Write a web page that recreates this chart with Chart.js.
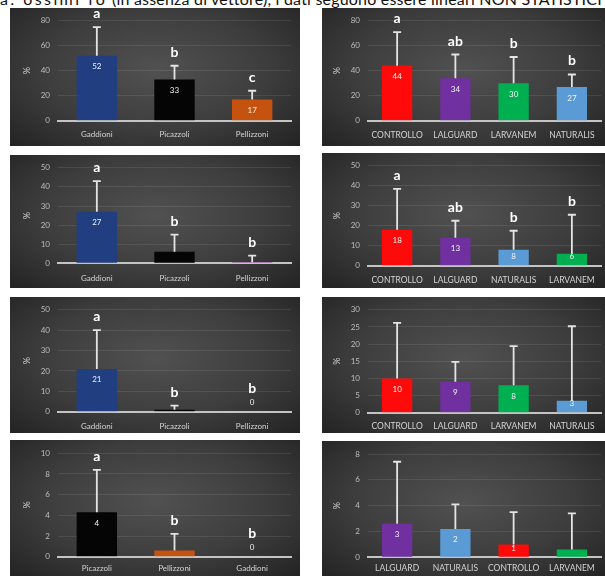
<!DOCTYPE html>
<html>
<head>
<meta charset="utf-8">
<script src="https://cdn.jsdelivr.net/npm/chart.js@4.4.1/dist/chart.umd.min.js"></script>
<style>
  html,body{margin:0;padding:0;background:#fff;width:605px;height:576px;overflow:hidden;position:relative;font-family:Lato,"Liberation Sans",sans-serif;}
  .title{position:absolute;top:-11px;white-space:nowrap;font-size:16px;line-height:19px;color:#111;}
  .panel{position:absolute;background:radial-gradient(ellipse at 50% 45%,#515151 0%,#3d3d3d 55%,#232323 100%);}
  canvas{display:block;}
</style>
</head>
<body>
<div class="title" style="left:0px;letter-spacing:2.4px;">a: ossimi fo</div>
<div class="title" style="left:112px;letter-spacing:0.2px;">(in assenza di vettore), i dati seguono essere lineari NON STATISTICI</div>

<script>
// ---------- DATA ----------
const catGPP = ['Gaddioni','Picazzoli','Pellizzoni'];
const catPPG = ['Picazzoli','Pellizzoni','Gaddioni'];
const catR1 = ['CONTROLLO','LALGUARD','LARVANEM','NATURALIS'];
const catR2 = ['CONTROLLO','LALGUARD','NATURALIS','LARVANEM'];
const catR3 = ['CONTROLLO','LALGUARD','LARVANEM','NATURALIS'];
const catR4 = ['LALGUARD','NATURALIS','CONTROLLO','LARVANEM'];

// panel 1 (left, row 1)
const val1 = [52, 33, 17];
const err1 = [23, 11, 7];
const let1 = ['a','b','c'];
const lab1 = ['52','33','17'];
// panel 2 (right, row 1)
const val2 = [44, 34, 30, 27];
const err2 = [27, 19, 21, 10];
const let2 = ['a','ab','b','b'];
const lab2 = ['44','34','30','27'];
// panel 3 (left, row 2)
const val3 = [27, 6, 0.6];
const err3 = [16, 9, 3.4];
const let3 = ['a','b','b'];
const lab3 = ['27','',''];
// panel 4 (right, row 2)
const val4 = [18, 14, 8, 6];
const err4 = [20.5, 8.5, 9.5, 19.5];
const let4 = ['a','ab','b','b'];
const lab4 = ['18','13','8','6'];
// panel 5 (left, row 3)
const val5 = [21, 1, 0];
const err5 = [19, 2, 0];
const let5 = ['a','b','b'];
const lab5 = ['21','','0'];
// panel 6 (right, row 3)
const val6 = [10, 9, 8, 3.5];
const err6 = [16.2, 5.8, 11.4, 21.7];
const let6 = ['','','',''];
const lab6 = ['10','9','8','3'];
// panel 7 (left, row 4)
const val7 = [4.3, 0.6, 0];
const err7 = [4.1, 1.6, 0];
const let7 = ['a','b','b'];
const lab7 = ['4','','0'];
// panel 8 (right, row 4)
const val8 = [2.6, 2.2, 1, 0.6];
const err8 = [4.8, 1.9, 2.5, 2.8];
const let8 = ['','','',''];
const lab8 = ['3','2','1',''];

// axis ranges
const yMax = [80, 80, 50, 50, 50, 30, 10, 8];
const yStep = [20, 20, 10, 10, 10, 5, 2, 2];

// ---------- STYLE ----------
const colorOf = {
  'Gaddioni':'#213f80','Picazzoli':'#050505','Pellizzoni':'#c5530f',
  'CONTROLLO':'#ff0a0a','LALGUARD':'#7030a0','LARVANEM':'#00b050','NATURALIS':'#5b9bd5'
};
const altPell = '#8a3a9a';

const panels = [
  {cats:catGPP,val:val1,err:err1,let:let1,lab:lab1,L:10, T:8,  W:290,H:138,pt:10.3,pb:112.7,lg:14},
  {cats:catR1, val:val2,err:err2,let:let2,lab:lab2,L:322,T:8,  W:283,H:138,pt:10.3,pb:112.7,lg:14},
  {cats:catGPP,val:val3,err:err3,let:let3,lab:lab3,L:10, T:155,W:290,H:133,pt:6.7, pb:108.3,lg:15},
  {cats:catR2, val:val4,err:err4,let:let4,lab:lab4,L:322,T:153,W:283,H:135,pt:10.3,pb:112.7,lg:14},
  {cats:catGPP,val:val5,err:err5,let:let5,lab:lab5,L:10, T:297,W:290,H:136,pt:12.3,pb:114.7,lg:15},
  {cats:catR3, val:val6,err:err6,let:let6,lab:lab6,L:322,T:297,W:283,H:136,pt:12.3,pb:115.7,lg:13.5},
  {cats:catPPG,val:val7,err:err7,let:let7,lab:lab7,L:10, T:440,W:290,H:136,pt:13.3,pb:116.7,lg:11.7},
  {cats:catR4, val:val8,err:err8,let:let8,lab:lab8,L:322,T:441,W:283,H:135,pt:13,  pb:116.3,lg:10.5}
];

const FONT = 'Lato, "Liberation Sans", sans-serif';

const overlay = {
  id:'overlay',
  afterDatasetsDraw(chart){
    const p = chart.options.plugins.overlay;
    const ctx = chart.ctx;
    const ys = chart.scales.y;
    const meta = chart.getDatasetMeta(0);
    const y0 = ys.getPixelForValue(0);
    ctx.save();
    meta.data.forEach((bar,i)=>{
      const v = p.val[i], e = p.err[i];
      const yv = ys.getPixelForValue(v);
      const yt = ys.getPixelForValue(v+e);
      const x = bar.x;
      if(e>0){
        ctx.strokeStyle = '#e4e4e4';
        ctx.lineWidth = 1.8;
        ctx.beginPath();
        ctx.moveTo(x, yv); ctx.lineTo(x, yt);
        ctx.moveTo(x-4, yt); ctx.lineTo(x+4, yt);
        ctx.stroke();
      }
      let labY = null;
      if(p.lab[i]){
        labY = Math.min(yv + 11, y0 - 9);
        ctx.fillStyle = '#f2f2f2';
        ctx.font = '8px ' + FONT;
        ctx.textAlign = 'center';
        ctx.textBaseline = 'middle';
        ctx.fillText(p.lab[i], x, labY);
      }
      if(p.let[i]){
        let ly = yt - 9;
        if(labY !== null) ly = Math.min(ly, labY - 10);
        ctx.fillStyle = '#ffffff';
        ctx.font = 'bold 14px ' + FONT;
        ctx.textAlign = 'center';
        ctx.textBaseline = 'alphabetic';
        ctx.fillText(p.let[i], x, ly);
      }
    });
    ctx.restore();
  }
};

panels.forEach((pn, idx)=>{
  const div = document.createElement('div');
  div.className = 'panel';
  div.style.left = pn.L + 'px';
  div.style.top = pn.T + 'px';
  div.style.width = pn.W + 'px';
  div.style.height = pn.H + 'px';
  const cv = document.createElement('canvas');
  cv.width = pn.W; cv.height = pn.H;
  div.appendChild(cv);
  document.body.appendChild(div);

  const isLeft = pn.L < 100;
  const yW = 36, xH = 18;
  const plotLeft = isLeft ? 48 : 46;
  const plotRight = isLeft ? 281 : 279;
  const colors = pn.cats.map(c => (idx===2 && c==='Pellizzoni') ? altPell : colorOf[c]);

  new Chart(cv, {
    type:'bar',
    data:{
      labels: pn.cats,
      datasets:[{
        data: pn.val,
        backgroundColor: colors,
        borderWidth: 0,
        barPercentage: 0.52,
        categoryPercentage: 1
      }]
    },
    options:{
      responsive:false,
      animation:false,
      devicePixelRatio:1,
      layout:{padding:{left: plotLeft - yW, right: pn.W - plotRight, top: pn.pt, bottom: pn.H - pn.pb - xH}},
      plugins:{
        legend:{display:false},
        tooltip:{enabled:false},
        overlay:{val:pn.val, err:pn.err, let:pn.let, lab:pn.lab}
      },
      scales:{
        x:{
          afterFit(s){ s.height = xH; },
          grid:{display:false, drawTicks:false},
          border:{display:true, color:'#c4c4c4', width:2},
          ticks:{
            color:'#d4d4d4',
            font:{size: isLeft ? 8 : 8.5, family: FONT},
            padding: pn.lg - 5,
            autoSkip:false, maxRotation:0
          }
        },
        y:{
          min:0, max:yMax[idx],
          afterFit(s){ s.width = yW; },
          grid:{color:'rgba(255,255,255,0.09)', drawTicks:false, lineWidth:1},
          border:{display:false},
          ticks:{stepSize:yStep[idx], color:'#bdbdbd', font:{size:8, family: FONT}, padding:8},
          title:{display:true, text:'%', color:'#cfcfcf', font:{size:9, family: FONT}, padding:0}
        }
      }
    },
    plugins:[overlay]
  });
});
</script>
</body>
</html>
